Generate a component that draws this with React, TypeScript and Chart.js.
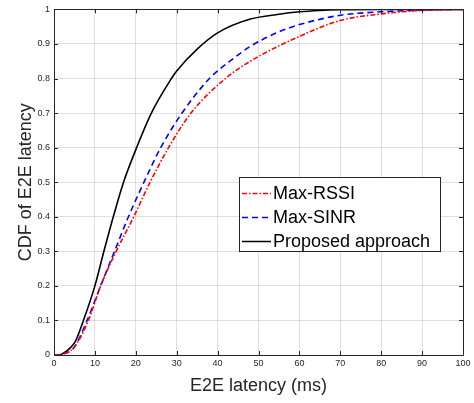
import React, { useEffect, useRef } from 'react';
import { Chart, registerables } from 'chart.js';

Chart.register(...registerables);

const xTicks = [0, 10, 20, 30, 40, 50, 60, 70, 80, 90, 100];
const yTicks = [0, 0.1, 0.2, 0.3, 0.4, 0.5, 0.6, 0.7, 0.8, 0.9, 1];

const rssiX = [0, 1, 2, 4.9, 8.4, 11.4, 15.2, 19.5, 23.5, 28, 33.5, 41.9, 48, 60, 70, 80, 90, 100];
const rssiY = [0, 0, 0.002, 0.022, 0.1, 0.2, 0.3, 0.4, 0.5, 0.6, 0.7, 0.8, 0.85, 0.922, 0.968, 0.987, 0.997, 1];

const sinrX = [0, 1, 2, 4.9, 8.1, 11.4, 14.8, 18.2, 22, 26.1, 31.3, 38, 43, 48, 55, 60, 70, 80, 90, 100];
const sinrY = [0, 0, 0.002, 0.022, 0.1, 0.2, 0.3, 0.4, 0.5, 0.6, 0.7, 0.8, 0.85, 0.893, 0.935, 0.956, 0.983, 0.993, 0.998, 1];

const propX = [0, 1, 2, 4.1, 5.3, 7.2, 10, 12.2, 14.5, 17, 20.2, 23.8, 28.7, 30, 35, 40, 48, 55, 60, 65, 70, 80, 100];
const propY = [0, 0, 0.003, 0.022, 0.041, 0.1, 0.2, 0.3, 0.4, 0.5, 0.6, 0.7, 0.8, 0.822, 0.885, 0.932, 0.972, 0.986, 0.993, 0.997, 0.999, 1, 1];

const seriesNames = ['Max-RSSI', 'Max-SINR', 'Proposed approach'];
const seriesColors = ['#ff0000', '#0000ff', '#000000'];
const seriesDashes: number[][] = [[5, 2, 1.5, 2], [6, 4], []];

const xTitle = 'E2E latency (ms)';
const yTitle = 'CDF of E2E latency';

const FONT = '"Liberation Sans", Arial, Helvetica, sans-serif';
const AXIS_COLOR = '#262626';

const toPoints = (xs: number[], ys: number[]) => xs.map((x, i) => ({ x, y: ys[i] }));

const boxPlugin = {
  id: 'matlabBox',
  afterDatasetsDraw(chart: any) {
    const { ctx, chartArea, scales } = chart;
    const { left, right, top, bottom } = chartArea;
    const xs = scales.x;
    const ys = scales.y;
    ctx.save();
    ctx.strokeStyle = AXIS_COLOR;
    ctx.lineWidth = 1;
    ctx.setLineDash([]);
    ctx.beginPath();
    ctx.rect(Math.round(left) + 0.5, Math.round(top) + 0.5, Math.round(right - left), Math.round(bottom - top));
    ctx.stroke();
    const tl = 4;
    ctx.beginPath();
    xTicks.forEach((v) => {
      const px = Math.round(xs.getPixelForValue(v)) + 0.5;
      ctx.moveTo(px, bottom);
      ctx.lineTo(px, bottom - tl);
      ctx.moveTo(px, top);
      ctx.lineTo(px, top + tl);
    });
    yTicks.forEach((v) => {
      const py = Math.round(ys.getPixelForValue(v)) + 0.5;
      ctx.moveTo(left, py);
      ctx.lineTo(left + tl, py);
      ctx.moveTo(right, py);
      ctx.lineTo(right - tl, py);
    });
    ctx.stroke();
    ctx.restore();
  },
  afterDraw(chart: any) {
    const { ctx } = chart;
    const bx = 239.5;
    const by = 177.5;
    const bw = 201;
    const bh = 74;
    ctx.save();
    ctx.fillStyle = '#ffffff';
    ctx.fillRect(bx, by, bw, bh);
    ctx.strokeStyle = AXIS_COLOR;
    ctx.lineWidth = 1;
    ctx.strokeRect(bx, by, bw, bh);
    const rows = [193.5, 217.5, 241.5];
    ctx.font = `18px ${FONT}`;
    ctx.textBaseline = 'middle';
    ctx.textAlign = 'left';
    seriesNames.forEach((name, i) => {
      ctx.strokeStyle = seriesColors[i];
      ctx.lineWidth = 1.5;
      ctx.setLineDash(seriesDashes[i]);
      ctx.beginPath();
      ctx.moveTo(242, rows[i]);
      ctx.lineTo(271, rows[i]);
      ctx.stroke();
      ctx.setLineDash([]);
      ctx.fillStyle = '#000000';
      ctx.fillText(name, 273, rows[i] + 1);
    });
    ctx.restore();
  },
};

export default function App() {
  const canvasRef = useRef<HTMLCanvasElement | null>(null);

  useEffect(() => {
    const canvas = canvasRef.current;
    if (!canvas) return;
    const datasets = [
      { xs: rssiX, ys: rssiY },
      { xs: sinrX, ys: sinrY },
      { xs: propX, ys: propY },
    ].map((s, i) => ({
      label: seriesNames[i],
      data: toPoints(s.xs, s.ys),
      borderColor: seriesColors[i],
      backgroundColor: seriesColors[i],
      borderWidth: 1.6,
      borderDash: seriesDashes[i],
      pointRadius: 0,
      fill: false,
      cubicInterpolationMode: 'monotone' as const,
    }));

    const chart = new Chart(canvas, {
      type: 'line',
      data: { datasets },
      plugins: [boxPlugin],
      options: {
        responsive: false,
        animation: false,
        layout: { padding: { left: 0, right: 11, top: 4, bottom: 0 } },
        plugins: {
          legend: { display: false },
          tooltip: { enabled: false },
        },
        scales: {
          x: {
            type: 'linear',
            min: 0,
            max: 100,
            afterBuildTicks: (scale: any) => {
              scale.ticks = xTicks.map((v) => ({ value: v }));
            },
            afterFit: (scale: any) => {
              scale.height = 48;
            },
            ticks: {
              autoSkip: false,
              maxRotation: 0,
              padding: 3,
              color: AXIS_COLOR,
              font: { family: FONT, size: 9 },
              callback: (v: any) => String(v),
            },
            grid: { color: 'rgba(38,38,38,0.15)', drawTicks: false, lineWidth: 1 },
            border: { display: false },
            title: {
              display: true,
              text: xTitle,
              color: AXIS_COLOR,
              font: { family: FONT, size: 18 },
              padding: { top: 0, bottom: 6 },
            },
          },
          y: {
            type: 'linear',
            min: 0,
            max: 1,
            afterBuildTicks: (scale: any) => {
              scale.ticks = yTicks.map((v) => ({ value: v }));
            },
            afterFit: (scale: any) => {
              scale.width = 54;
            },
            ticks: {
              autoSkip: false,
              padding: 4,
              color: AXIS_COLOR,
              font: { family: FONT, size: 9 },
              callback: (v: any) => String(Math.round(Number(v) * 10) / 10),
            },
            grid: { color: 'rgba(38,38,38,0.15)', drawTicks: false, lineWidth: 1 },
            border: { display: false },
            title: {
              display: true,
              text: yTitle,
              color: AXIS_COLOR,
              font: { family: FONT, size: 18 },
              padding: { top: 15, bottom: 0 },
            },
          },
        },
      },
    });
    return () => chart.destroy();
  }, []);

  return (
    <div style={{ position: 'fixed', left: 0, top: 0, width: 474, height: 403, background: '#ffffff' }}>
      <canvas ref={canvasRef} width={474} height={403} style={{ display: 'block' }} />
    </div>
  );
}
